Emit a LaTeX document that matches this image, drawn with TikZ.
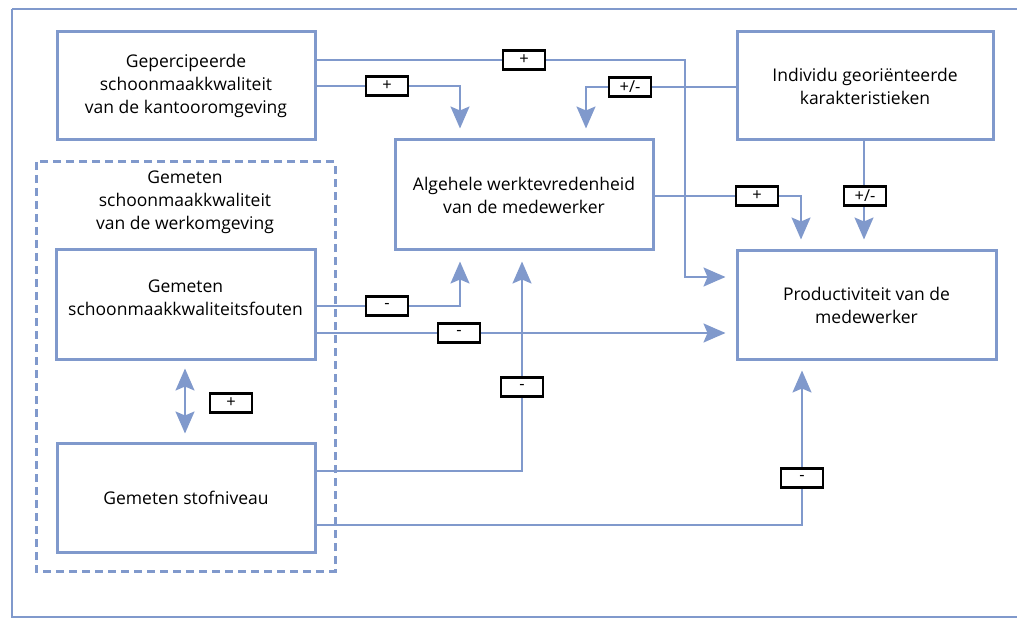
\documentclass[tikz,border=0pt]{standalone}
\usepackage{fontspec}
\setmainfont{Open Sans}
\usetikzlibrary{arrows.meta}
\definecolor{blu}{RGB}{128,153,204}
\tikzset{
  box/.style={draw=blu,line width=3pt,fill=white,align=center,inner sep=0pt,font=\fontsize{17.5}{23}\selectfont},
  conn/.style={draw=blu,line width=2pt,-{Stealth[length=22pt,width=19pt,inset=4pt]},shorten >=10pt},
  lbl/.style={draw=black,line width=2.2pt,fill=white,minimum width=42pt,minimum height=19pt,inner sep=0pt,font=\fontsize{16.5}{16}\selectfont},
  grp/.style={draw=blu,line width=3pt,dash pattern=on 8pt off 5pt},
  txt/.style={align=center,inner sep=0pt,font=\fontsize{17.5}{23}\selectfont}
}
\begin{document}
\begin{tikzpicture}[x=1pt,y=-1pt]
\useasboundingbox (0,0) rectangle (1017,620);
\draw[blu,line width=2pt] (12,9) -- (1030,9) (12,9) -- (12,617) -- (1030,617);
% group
\draw[grp] (36,162) rectangle (335,571);
\node[txt] (grpt) at (185,202) {Gemeten\\schoonmaakkwaliteit\\van de werkomgeving};
% boxes
\node[box,minimum width=258pt,minimum height=108pt] (perc) at (186,86) {Gepercipeerde\\schoonmaakkwaliteit\\van de kantooromgeving};
\node[box,minimum width=256pt,minimum height=108pt] (indiv) at (865,86) {Individu georiënteerde\\karakteristieken};
\node[box,minimum width=258pt,minimum height=110pt] (alg) at (524,195) {Algehele werktevredenheid\\van de medewerker};
\node[box,minimum width=259pt,minimum height=109pt] (fout) at (185.5,304.5) {Gemeten\\schoonmaakkwaliteitsfouten\\[-10pt]};
\node[box,minimum width=258pt,minimum height=109pt] (stof) at (186,497.5) {Gemeten stofniveau};
\node[box,minimum width=259pt,minimum height=108pt] (prod) at (866.5,305) {Productiviteit van de\\medewerker};
% connectors
\draw[conn] (perc.east |- 0,60) -- (685,60) |- (prod.west |- 0,277);
\draw[conn] (perc.east |- 0,86) -| (alg.north -| 460,0);
\draw[conn] (indiv.west |- 0,87) -| (alg.north -| 586,0);
\draw[conn] (alg.east |- 0,196) -| (prod.north -| 801,0);
\draw[conn] (indiv.south -| 864,0) -- (prod.north -| 864,0);
\draw[conn] (fout.east |- 0,306) -| (alg.south -| 460,0);
\draw[conn] (fout.east |- 0,333) -- (prod.west |- 0,333);
\draw[conn] (stof.east |- 0,471) -| (alg.south -| 522,0);
\draw[conn] (stof.east |- 0,525) -| (prod.south -| 802,0);
\draw[conn,{Stealth[length=22pt,width=19pt,inset=4pt]}-{Stealth[length=22pt,width=19pt,inset=4pt]},shorten <=8pt,shorten >=8pt] (fout.south -| 185,0) -- (stof.north -| 185,0);
% labels
\node[lbl] (l1) at (524,60) {+};
\node[lbl] (l2) at (387,86) {+};
\node[lbl] (l3) at (630,87) {+/-};
\node[lbl] (l4) at (757,196) {+};
\node[lbl] (l5) at (865,196) {+/-};
\node[lbl] (l6) at (387,306) {-};
\node[lbl] (l7) at (459,333) {-};
\node[lbl] (l8) at (522,387) {-};
\node[lbl] (l9) at (802,478) {-};
\node[lbl] (l10) at (231,403) {+};
\end{tikzpicture}
\end{document}
